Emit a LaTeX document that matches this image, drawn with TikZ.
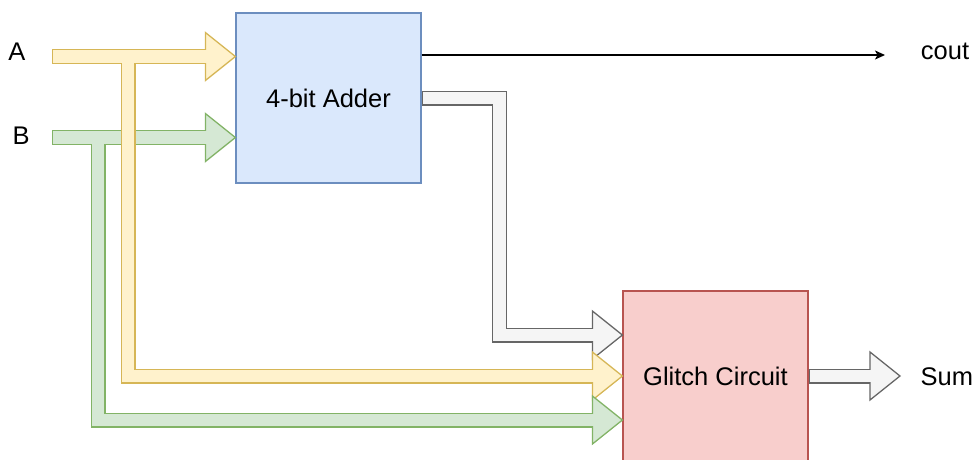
\documentclass[tikz,border=0pt]{standalone}
\usepackage{fontspec}
\setmainfont{Liberation Sans}
\usetikzlibrary{arrows.meta}

\definecolor{yellowfill}{HTML}{FFF2CC}
\definecolor{yellowline}{HTML}{D6B656}
\definecolor{greenfill}{HTML}{D5E8D4}
\definecolor{greenline}{HTML}{82B366}
\definecolor{grayfill}{HTML}{F5F5F5}
\definecolor{grayline}{HTML}{666666}
\definecolor{bluefill}{HTML}{DAE8FC}
\definecolor{blueline}{HTML}{6C8EBF}
\definecolor{redfill}{HTML}{F8CECC}
\definecolor{redline}{HTML}{B85450}

% wide hollow arrow: outline, head, then inner fill
\newcommand{\fatarrow}[4][]{%
  \draw[fatshaft,#2line,shorten >=29pt] #3;
  \filldraw[fathead,draw=#2line,fill=#2fill] ([xshift=-30pt,yshift=24pt]#4) -- (#4) -- ([xshift=-30pt,yshift=-24pt]#4) -- cycle;
  \draw[fatshaft,line width=12.4pt,#2fill,shorten >=28pt,#1] #3;
}

\begin{document}
\begin{tikzpicture}[x=1pt,y=-1pt,
  font=\fontsize{25.5}{30}\selectfont,
  blockbox/.style={draw,line width=1.2pt,minimum width=185pt,minimum height=170pt,inner sep=0pt},
  lbl/.style={inner sep=0pt,anchor=base west},
  fatshaft/.style={line width=15pt,line join=miter,line cap=butt},
  fathead/.style={line width=1.3pt,line join=miter},
  thinarrow/.style={line width=1.4pt,-{Stealth[length=10pt,width=9pt,inset=2.5pt]}}]

  \useasboundingbox (0,0) rectangle (978,459);

  \node[blockbox,draw=blueline,fill=bluefill] (adder) at (328.5,98) {4-bit Adder};
  \node[blockbox,draw=redline,fill=redfill] (glitch) at (715.5,376) {Glitch Circuit};

  \node[lbl] (A) at (8.3,60.7) {A};
  \node[lbl] (B) at (12.5,144) {B};
  \node[lbl] (cout) at (920.7,59.3) {cout};
  \node[lbl] (sum) at (920.5,385) {Sum};

  \coordinate (Atail) at (52,56.5);
  \coordinate (Btail) at (52,137.5);
  \coordinate (ain) at (Atail -| adder.west);
  \coordinate (bin) at (Btail -| adder.west);
  \coordinate (asplit) at (128,63);
  \coordinate (bsplit) at (98,144);
  \coordinate (gturn) at (499.4,335);
  \coordinate (gla) at (glitch.west);
  \coordinate (glb) at ([yshift=-44pt]glitch.west);
  \coordinate (glc) at ([yshift=41pt]glitch.west);
  \coordinate (sumtip) at (900,376);
  \coordinate (couttip) at (885,55);

  \fatarrow[shorten <=1.3pt]{gray}{(adder.east) -| (gturn) -- (glc)}{glc}
  \fatarrow[shorten <=1.3pt]{green}{(Btail) -- (bin)}{bin}
  \fatarrow[shorten <=1.3pt]{yellow}{(Atail) -- (ain)}{ain}
  \fatarrow{yellow}{(asplit) |- (gla)}{gla}
  \fatarrow{green}{(bsplit) |- (glb)}{glb}
  \fatarrow[shorten <=1.3pt]{gray}{(glitch.east) -- (sumtip)}{sumtip}

  \draw[thinarrow] (adder.east |- couttip) -- (couttip);
\end{tikzpicture}
\end{document}
